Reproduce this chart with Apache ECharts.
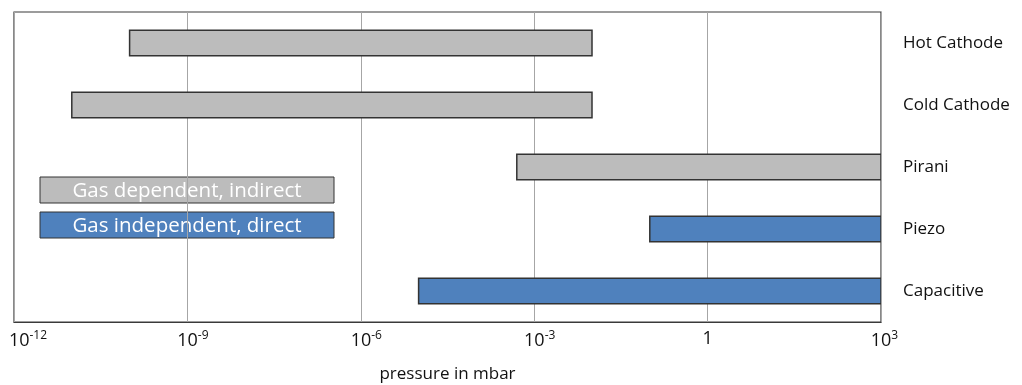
<!DOCTYPE html>
<html><head><meta charset="utf-8">
<script src="https://cdn.jsdelivr.net/npm/echarts@6/dist/echarts.min.js"></script>
<style>html,body{margin:0;padding:0;background:#fff}#c{width:1022px;height:385px}</style>
</head><body><div id="c"></div>
<script>
const categories = ['Hot Cathode', 'Cold Cathode', 'Pirani', 'Piezo', 'Capacitive'];
const rangeStart = [1e-10, 1e-11, 5e-4, 1e-1, 1e-5];
const rangeEnd = [1e-2, 1e-2, 1e3, 1e3, 1e3];
const gasDependent = [true, true, true, false, false];
const tickExponents = [-12, -9, -6, -3, 0, 3];
const legendLabels = ['Gas dependent, indirect', 'Gas independent, direct'];

const GREY = '#bcbcbc', BLUE = '#4f81bd', FONT = '"Open Sans", sans-serif';
const data = categories.map((c, i) => [i, rangeStart[i], rangeEnd[i], gasDependent[i] ? 1 : 0]);

const chart = echarts.init(document.getElementById('c'));
chart.setOption({
  animation: false,
  textStyle: { fontFamily: FONT },
  grid: { left: 14, right: 141, top: 12, bottom: 63, outerBoundsMode: 'none', containLabel: false,
    show: true, borderColor: '#3a3a3a', borderWidth: 1.2 },
  xAxis: {
    type: 'log', logBase: 1000, min: 1e-12, max: 1e3,
    name: 'pressure in mbar', nameLocation: 'middle', nameGap: 44,
    nameTextStyle: { fontSize: 17, color: '#111', fontFamily: FONT },
    axisLine: { show: true, lineStyle: { color: '#3a3a3a', width: 1.2 } },
    axisTick: { show: false },
    splitLine: { show: true, lineStyle: { color: '#a6a6a6', width: 1 } },
    axisLabel: {
      margin: 8, color: '#111', fontSize: 18, fontFamily: FONT,
      formatter: v => {
        const e = Math.round(Math.log10(v));
        if (!tickExponents.includes(e)) return '';
        if (e === 0) return '{b|1}';
        const s = String(e);
        const key = e === tickExponents[0] ? 'q' : ('p' + s.length);
        return '{' + key + '|}{b|10}{s|' + s + '}';
      },
      rich: {
        b: { fontSize: 18, color: '#111', fontFamily: FONT },
        s: { fontSize: 12, color: '#111', fontFamily: FONT, verticalAlign: 'top', padding: [0, 0, 9, 0] },
        p1: { width: 7 }, p2: { width: 11 }, p3: { width: 18 }, q: { width: 28 }
      }
    }
  },
  yAxis: {
    type: 'category', data: categories, inverse: true, position: 'right',
    axisLine: { show: false }, axisTick: { show: false }, splitLine: { show: false },
    axisLabel: { margin: 22, color: '#111', fontSize: 17, fontFamily: FONT }
  },
  series: [{
    type: 'custom',
    encode: { x: [1, 2], y: 0 },
    data: data,
    clip: true,
    renderItem: (params, api) => {
      const cat = api.value(0);
      const p0 = api.coord([api.value(1), cat]);
      const p1 = api.coord([api.value(2), cat]);
      const h = api.size([0, 1])[1] * 0.41;
      return {
        type: 'rect',
        shape: { x: p0[0], y: p0[1] - h / 2, width: p1[0] - p0[0], height: h },
        style: { fill: api.value(3) ? GREY : BLUE, stroke: '#333', lineWidth: 1.5 }
      };
    }
  }],
  graphic: [
    { type: 'rect', x: 40, y: 177, shape: { width: 294, height: 26 }, style: { fill: GREY, stroke: '#333', lineWidth: 1 } },
    { type: 'text', x: 187, y: 191, style: { text: legendLabels[0], fill: '#fff', fontSize: 20.5, fontFamily: FONT, align: 'center', verticalAlign: 'middle' } },
    { type: 'rect', x: 40, y: 212, shape: { width: 294, height: 26 }, style: { fill: BLUE, stroke: '#333', lineWidth: 1 } },
    { type: 'text', x: 187, y: 226, style: { text: legendLabels[1], fill: '#fff', fontSize: 20.5, fontFamily: FONT, align: 'center', verticalAlign: 'middle' } }
  ]
});
</script></body></html>
